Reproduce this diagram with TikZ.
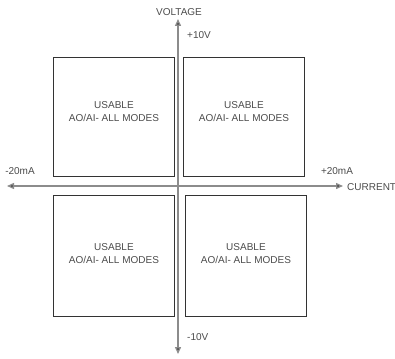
\documentclass[tikz,border=0pt]{standalone}
\usepackage{fontspec}
\setmainfont{Liberation Sans}
\usetikzlibrary{arrows.meta}
\begin{document}
\begin{tikzpicture}[x=1pt,y=-1pt,
  quad/.style={draw=black!80, line width=0.9pt, minimum width=121pt, minimum height=119pt, inner sep=0pt, anchor=north west},
  txt/.style={align=center, text=black!70, inner sep=0pt, font=\fontsize{10}{13}\selectfont},
  axis/.style={draw=black!45, line width=1.4pt, -{Triangle[length=7pt,width=6pt,fill=black!85]}},
  lbl/.style={text=black!70, font=\fontsize{10}{12}\selectfont, inner sep=0pt}]
\useasboundingbox (0,0) rectangle (395,358);
\fill[white] (0,0) rectangle (395,358);
\node[quad] (q2) at (53,57) {};
\node[quad] (q1) at (183,57) {};
\node[quad, minimum height=121pt] (q3) at (53,195) {};
\node[quad, minimum height=121pt] (q4) at (185,195) {};
\node[txt] (t2) at ([yshift=5pt]q2.center) {USABLE\\AO/AI- ALL MODES};
\node[txt] (t1) at ([yshift=5pt]q1.center) {USABLE\\AO/AI- ALL MODES};
\node[txt] (t3) at ([yshift=2.5pt]q3.center) {USABLE\\AO/AI- ALL MODES};
\node[txt] (t4) at ([yshift=2.5pt]q4.center) {USABLE\\AO/AI- ALL MODES};
\coordinate (c) at (178,186);
\coordinate (top) at (178,19);
\coordinate (bot) at (178,354);
\coordinate (left) at (7,186);
\coordinate (right) at (343,186);
\draw[axis] (c) -- (top);
\draw[axis] (c) -- (bot);
\draw[axis] (c) -- (left);
\draw[axis] (c) -- (right);
\node[lbl] (vl) at (179,12) {VOLTAGE};
\node[lbl, anchor=west] (pv) at (187,35) {+10V};
\node[lbl, anchor=west] (nv) at (187,337) {-10V};
\node[lbl] (nm) at (20,171) {-20mA};
\node[lbl] (pm) at (337,171) {+20mA};
\node[lbl, anchor=west] (cu) at (347,187) {CURRENT};
\end{tikzpicture}
\end{document}
